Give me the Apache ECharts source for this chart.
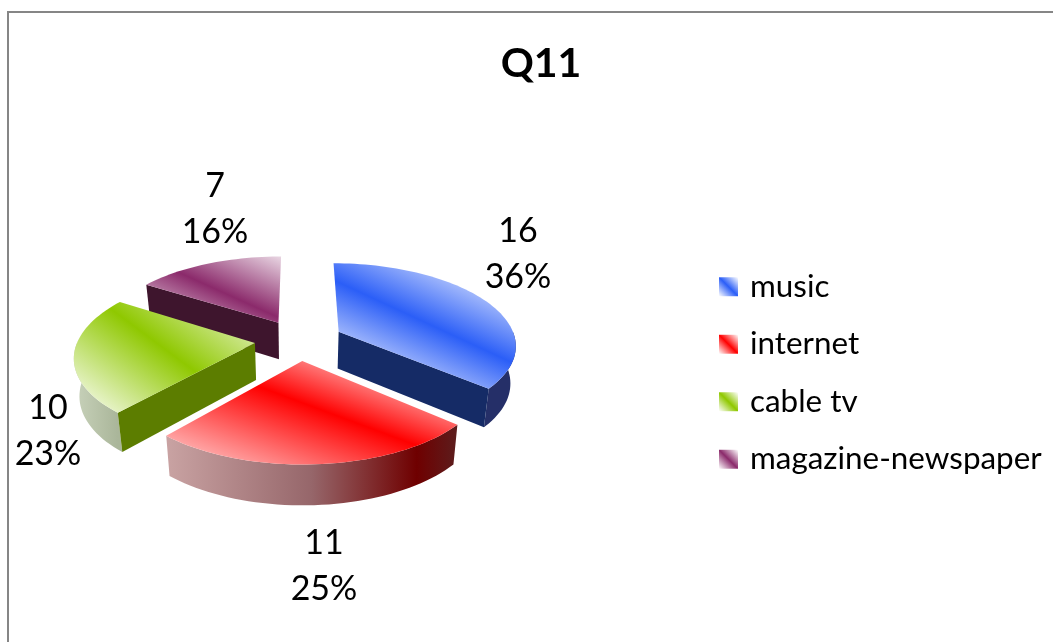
<!DOCTYPE html>
<html>
<head>
<meta charset="utf-8">
<title>Q11</title>
<style>
html, body { margin: 0; padding: 0; background: #fff; }
#chart { width: 1053px; height: 642px; }
</style>
<script src="https://cdn.jsdelivr.net/npm/echarts@6/dist/echarts.min.js"></script>
</head>
<body>
<div id="chart"></div>
<script>
// data
const titleText = 'Q11'
const categories = ['music', 'internet', 'cable tv', 'magazine-newspaper']
const values = [16, 11, 10, 7]

// projection of the tilted pie, perspective like the excel 3d pie
const cx = 299, cy = 340
const radiusX = 177, radiusY = 81
const persp = 0.15
const explode = 0.25
const depth = 37
const converge = 0.025

// look of each slice, band = line of full colour across the top face
const looks = [
    { color: '#2b5ef7', band: [340, 283, 500, 357], low: 85, high: 85, wall: '#152b66', rim: [[0, '#252f68'], [1, '#252f68']], z: 2 },
    { color: '#ff0000', band: [260, 387, 410, 443], low: 125, high: 85, wall: '#5c1d1d', rim: [[0, '#c9a3a3'], [0.5, '#96666a'], [0.86, '#6f0000'], [1, '#5c1d1d']], z: 3 },
    { color: '#8fc800', band: [115, 312, 193, 370], low: 105, high: 105, wall: '#5c7d00', rim: [[0, '#c6d0b8'], [1, '#aab69a']], z: 2 },
    { color: '#8b2a6b', band: [180, 273, 273, 315], low: 70, high: 70, wall: '#3e152d', rim: [[0, '#3e152d'], [1, '#3e152d']], z: 1 }
]
const legendColors = ['#2b5ef7', '#ff0000', '#8fc800', '#8b2a6b']
const labelPos = [[518, 254], [324, 566], [48, 431], [215, 209]]

const total = values.reduce((a, b) => a + b, 0)
const rad = d => d * Math.PI / 180

function project(X, V, lift) {
    const w = 1 - persp * V
    // the height of the wall shrinks less with distance than the ground does
    const h = 1 - persp * V * 0.5
    return [
        cx + radiusX * X / w * (1 - converge * lift),
        cy + radiusY * V / w + lift * depth / h
    ]
}

function bandGradient(look) {
    const [x1, y1, x2, y2] = look.band
    const len = Math.hypot(x2 - x1, y2 - y1)
    const nx = (y2 - y1) / len, ny = -(x2 - x1) / len
    const mx = (x1 + x2) / 2, my = (y1 + y2) / 2
    return new echarts.graphic.LinearGradient(
        mx - nx * look.low, my - ny * look.low,
        mx + nx * look.high, my + ny * look.high,
        [
            { offset: 0, color: '#ffffff' },
            { offset: look.low / (look.low + look.high), color: look.color },
            { offset: 1, color: '#ffffff' }
        ],
        true
    )
}

function renderSlice(index, params, api) {
    const value = api.value(0)
    const before = values.slice(0, index).reduce((a, b) => a + b, 0)
    const start = before / total * 360
    const end = (before + value) / total * 360
    const mid = rad((start + end) / 2)
    const look = looks[index]

    // ground position of the exploded apex
    const ax = explode * Math.sin(mid), av = -explode * Math.cos(mid)
    const rimPoint = (deg, lift) => project(ax + Math.sin(rad(deg)), av - Math.cos(rad(deg)), lift)
    const apex = lift => project(ax, av, lift)

    const children = []

    // outer wall, only the part that faces the viewer
    const from = Math.max(start, 90), to = Math.min(end, 270)
    if (to > from) {
        const upper = [], lower = []
        for (let d = from; d < to; d += 2) {
            upper.push(rimPoint(d, 0))
            lower.unshift(rimPoint(d, 1))
        }
        upper.push(rimPoint(to, 0))
        lower.unshift(rimPoint(to, 1))
        const left = Math.min(upper[0][0], upper[upper.length - 1][0])
        const right = Math.max(upper[0][0], upper[upper.length - 1][0])
        const stops = look.rim.map(s => ({ offset: s[0], color: s[1] }))
        children.push({
            type: 'polygon',
            shape: { points: upper.concat(lower) },
            style: { fill: new echarts.graphic.LinearGradient(left, 0, right, 0, stops, true) }
        })
    }

    // cut faces
    const wall = deg => ({
        type: 'polygon',
        shape: { points: [apex(0), rimPoint(deg, 0), rimPoint(deg, 1), apex(1)] },
        style: { fill: look.wall }
    })
    if (Math.sin(rad(end)) > 0.01) children.push(wall(end))
    if (-Math.sin(rad(start)) > 0.01) children.push(wall(start))

    // top face
    const top = [apex(0)]
    for (let d = start; d < end; d += 2) top.push(rimPoint(d, 0))
    top.push(rimPoint(end, 0))
    children.push({ type: 'polygon', shape: { points: top }, style: { fill: bandGradient(look) } })

    children.push({
        type: 'text',
        x: labelPos[index][0],
        y: labelPos[index][1],
        style: {
            text: value + '\n' + Math.round(value / total * 100) + '%',
            fontFamily: 'Lato',
            fontSize: 34,
            lineHeight: 46,
            fill: '#000',
            align: 'center',
            verticalAlign: 'middle'
        }
    })

    return { type: 'group', children }
}

const chart = echarts.init(document.getElementById('chart'))

chart.setOption({
    animation: false,
    backgroundColor: '#fff',
    title: {
        text: titleText,
        left: 536,
        top: 38,
        textAlign: 'center',
        textStyle: { fontFamily: 'Lato', fontSize: 41, fontWeight: 'bold', color: '#000' }
    },
    legend: {
        orient: 'vertical',
        left: 714,
        top: 262,
        icon: 'rect',
        itemWidth: 19,
        itemHeight: 19,
        itemGap: 18,
        selectedMode: false,
        textStyle: { fontFamily: 'Lato', fontSize: 31.4, color: '#000', padding: [0, 0, 0, 7], lineHeight: 39.5 },
        data: categories.map((name, i) => ({
            name,
            itemStyle: {
                color: new echarts.graphic.LinearGradient(0, 1, 1, 0, [
                    { offset: 0, color: '#ffffff' },
                    { offset: 0.5, color: legendColors[i] },
                    { offset: 1, color: '#ffffff' }
                ])
            }
        }))
    },
    graphic: [{
        type: 'polyline',
        shape: { points: [[8, 660], [8, 12], [1070, 12]] },
        style: { stroke: '#868686', lineWidth: 2, fill: 'none' },
        silent: true
    }],
    series: categories.map((name, i) => ({
        type: 'custom',
        name,
        coordinateSystem: 'none',
        silent: true,
        z: looks[i].z,
        itemStyle: { color: legendColors[i] },
        renderItem: (params, api) => renderSlice(i, params, api),
        data: [[values[i]]]
    }))
})
</script>
</body>
</html>
